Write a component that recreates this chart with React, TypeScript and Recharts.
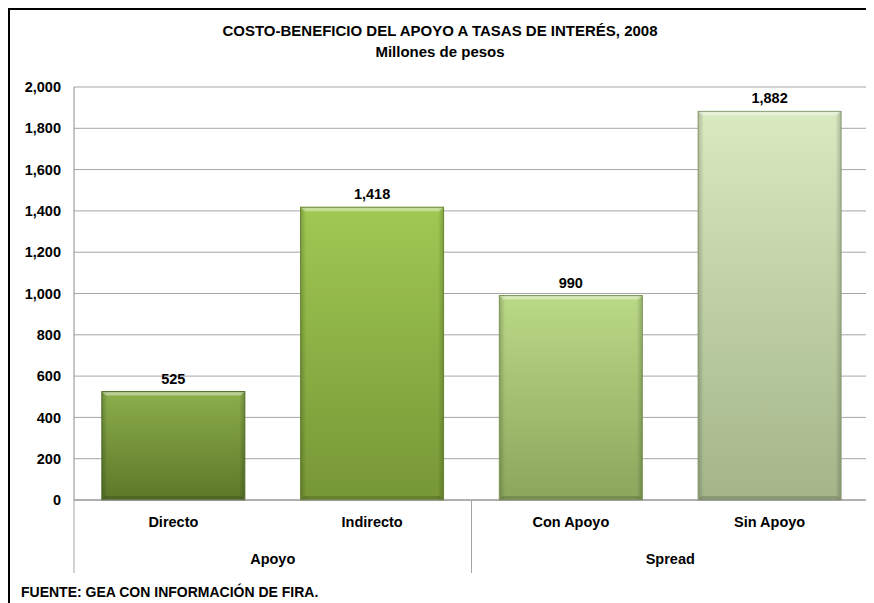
import React from 'react';
import { BarChart, Bar, XAxis, YAxis, CartesianGrid, Cell, LabelList } from 'recharts';

const categories = ['Directo', 'Indirecto', 'Con Apoyo', 'Sin Apoyo'];
const groups = ['Apoyo', 'Apoyo', 'Spread', 'Spread'];
const values = [525, 1418, 990, 1882];
const yTicks = [0, 200, 400, 600, 800, 1000, 1200, 1400, 1600, 1800, 2000];

const data = categories.map((name, i) => ({ name, group: groups[i], value: values[i] }));

const FONT = "'Liberation Sans Narrow', 'Liberation Sans', Arial, sans-serif";

// top / bottom / outline colour for each bar
const barColors = [
    { top: '#8cae4b', bottom: '#5c7829', edge: '#4f6a22' },
    { top: '#a0c853', bottom: '#779736', edge: '#66852c' },
    { top: '#bad986', bottom: '#8ca65c', edge: '#7a9450' },
    { top: '#d9e9c0', bottom: '#a3b589', edge: '#8a9c72' },
];

const fmt = (v: number) => v.toLocaleString('en-US');

const BevelBar = (props: any) => {
    const { x, y, width, height, index } = props;
    if (!height || height <= 0) return null;
    const c = barColors[index];
    const b = 4;
    return (
        <g>
            <rect x={x} y={y} width={width} height={height} fill={`url(#barGrad${index})`} />
            <rect x={x} y={y} width={width} height={height} fill="url(#sideShade)" />
            <polygon
                points={`${x},${y} ${x + width},${y} ${x + width - b},${y + b} ${x + b},${y + b}`}
                fill="#ffffff"
                fillOpacity={0.4}
            />
            <polygon
                points={`${x},${y + height} ${x + width},${y + height} ${x + width - b},${y + height - b} ${x + b},${y + height - b}`}
                fill="#000000"
                fillOpacity={0.15}
            />
            <rect x={x} y={y} width={width} height={height} fill="none" stroke={c.edge} strokeWidth={1} />
        </g>
    );
};

const GroupTick = (props: any) => {
    const { x, y, payload, index, width, visibleTicksCount } = props;
    const half = width && visibleTicksCount ? width / visibleTicksCount / 2 : 198.75;
    return (
        <g>
            <line x1={x - half} x2={x - half} y1={y - 54} y2={y + 19} stroke="#a6a6a6" strokeWidth={1} />
            {index === visibleTicksCount - 1 && (
                <line x1={x + half} x2={x + half} y1={y - 54} y2={y + 19} stroke="#a6a6a6" strokeWidth={1} />
            )}
            <text x={x} y={y} dy="0.71em" textAnchor="middle" fill="#000" fontSize={14.5} fontWeight={700} fontFamily={FONT}>
                {payload.value}
            </text>
        </g>
    );
};

export default function App() {
    return (
        <div
            style={{
                position: 'relative',
                width: 862,
                height: 593,
                borderLeft: '2px solid #000',
                borderTop: '2px solid #000',
                borderRight: '2px solid #000',
                background: '#fff',
                fontFamily: FONT,
                overflow: 'hidden',
            }}
        >
            <div
                style={{
                    position: 'absolute',
                    top: 10,
                    left: 0,
                    width: 860,
                    textAlign: 'center',
                    fontWeight: 700,
                    fontSize: 15,
                    lineHeight: '21px',
                    color: '#000',
                }}
            >
                <div>COSTO-BENEFICIO DEL APOYO A TASAS DE INTERÉS, 2008</div>
                <div>Millones de pesos</div>
            </div>
            <BarChart
                width={862}
                height={593}
                data={data}
                margin={{ top: 77, right: 3, left: 0, bottom: 29 }}
                barCategoryGap="14%"
            >
                <defs>
                    {barColors.map((c, i) => (
                        <linearGradient key={i} id={`barGrad${i}`} x1="0" y1="0" x2="0" y2="1">
                            <stop offset="0%" stopColor={c.top} />
                            <stop offset="100%" stopColor={c.bottom} />
                        </linearGradient>
                    ))}
                    <linearGradient id="sideShade" x1="0" y1="0" x2="1" y2="0">
                        <stop offset="0%" stopColor="#000" stopOpacity={0.2} />
                        <stop offset="4%" stopColor="#000" stopOpacity={0} />
                        <stop offset="96%" stopColor="#000" stopOpacity={0} />
                        <stop offset="100%" stopColor="#000" stopOpacity={0.2} />
                    </linearGradient>
                </defs>
                <CartesianGrid vertical={false} stroke="#a6a6a6" />
                <XAxis
                    xAxisId="cat"
                    dataKey="name"
                    height={38}
                    tickLine={false}
                    axisLine={{ stroke: '#8c8c8c' }}
                    tickMargin={11}
                    interval={0}
                    tick={{ fill: '#000', fontSize: 14.5, fontWeight: 700, fontFamily: FONT }}
                />
                <XAxis
                    xAxisId="grp"
                    dataKey="group"
                    allowDuplicatedCategory={false}
                    height={36}
                    tickLine={false}
                    axisLine={false}
                    tickMargin={10}
                    interval={0}
                    tick={<GroupTick />}
                />
                <YAxis
                    domain={[0, 2000]}
                    ticks={yTicks}
                    width={64}
                    tickLine={false}
                    axisLine={{ stroke: '#8c8c8c' }}
                    tickMargin={7}
                    tickFormatter={fmt}
                    tick={{ fill: '#000', fontSize: 14.5, fontWeight: 700, fontFamily: FONT }}
                />
                <Bar dataKey="value" xAxisId="cat" shape={<BevelBar />} isAnimationActive={false}>
                    {data.map((d, i) => (
                        <Cell key={d.name} fill={`url(#barGrad${i})`} />
                    ))}
                    <LabelList
                        dataKey="value"
                        position="top"
                        offset={8}
                        formatter={(v: any) => fmt(Number(v))}
                        style={{ fill: '#000', fontSize: 14.5, fontWeight: 700, fontFamily: FONT }}
                    />
                </Bar>
            </BarChart>
            <div
                style={{
                    position: 'absolute',
                    left: 11,
                    top: 573,
                    fontSize: 14,
                    fontWeight: 700,
                    lineHeight: '18px',
                    color: '#000',
                }}
            >
                FUENTE: GEA CON INFORMACIÓN DE FIRA.
            </div>
        </div>
    );
}
